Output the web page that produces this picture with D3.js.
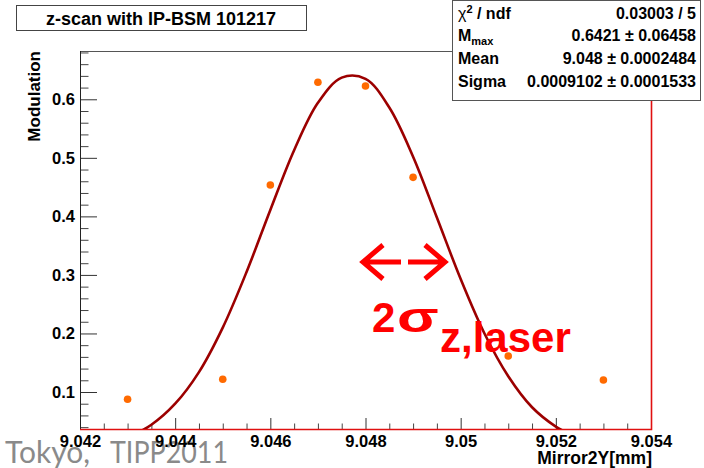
<!DOCTYPE html>
<html>
<head>
<meta charset="utf-8">
<script src="https://cdn.jsdelivr.net/npm/d3@7"></script>
<style>
  html, body { margin: 0; padding: 0; background: #ffffff; }
  svg text { font-family: 'Liberation Sans', Arial, sans-serif; }
</style>
</head>
<body>
<div id="container"></div>
<script>
// measured points
const scanX = [9.043, 9.045, 9.046, 9.047, 9.048, 9.049, 9.051, 9.053];
const scanY = [0.0875, 0.1217, 0.4536, 0.629, 0.6227, 0.4667, 0.1615, 0.1205];

// fit curve, every 0.0005 mm
const fitX = [9.0430, 9.0435, 9.0440, 9.0445, 9.0450, 9.0455, 9.0460, 9.0465, 9.0470, 9.0475,
    9.0480, 9.0485, 9.0490, 9.0495, 9.0500, 9.0505, 9.0510, 9.0515, 9.0520, 9.0525];
const fitY = [0.022, 0.044, 0.080, 0.134, 0.210, 0.305, 0.411, 0.513, 0.594, 0.637,
    0.635, 0.586, 0.502, 0.398, 0.293, 0.200, 0.127, 0.074, 0.041, 0.020];

const xTicks = [9.042, 9.044, 9.046, 9.048, 9.050, 9.052, 9.054];
const xTickLabels = ['9.042', '9.044', '9.046', '9.048', '9.05', '9.052', '9.054'];
const yTicks = [0.1, 0.2, 0.3, 0.4, 0.5, 0.6];
const yTickLabels = ['0.1', '0.2', '0.3', '0.4', '0.5', '0.6'];

const statNames = ['chi2', 'Mmax', 'Mean', 'Sigma'];
const statValues = ['0.03003 / 5', '0.6421 \u00b1 0.06458', '9.048 \u00b1 0.0002484', '0.0009102 \u00b1 0.0001533'];

const W = 704, H = 468;
const frame = {left: 80, right: 651, top: 51, bottom: 429};

const svg = d3.select('#container')
    .append('svg')
    .attr('width', W)
    .attr('height', H)
    .style('display', 'block');

const x = d3.scaleLinear().domain([9.042, 9.054]).range([frame.left, frame.right]);
const y = d3.scaleLinear().domain([0.0368, 0.6825]).range([frame.bottom, frame.top]);

// slide footer (sits under the axis labels)
svg.append('text')
    .text('Tokyo,')
    .attr('x', 5)
    .attr('y', 463)
    .attr('textLength', 85)
    .attr('lengthAdjust', 'spacingAndGlyphs')
    .style('font-family', 'Lato, \'Open Sans\', sans-serif')
    .style('font-size', '30px')
    .style('fill', '#8a8a8a');
svg.append('text')
    .text('TIPP2011')
    .attr('x', 110)
    .attr('y', 463)
    .attr('textLength', 118)
    .attr('lengthAdjust', 'spacingAndGlyphs')
    .style('font-family', 'Lato, \'Open Sans\', sans-serif')
    .style('font-size', '30px')
    .style('fill', '#8a8a8a');

// frame
svg.append('rect')
    .attr('x', frame.left + 0.5)
    .attr('y', frame.top + 0.5)
    .attr('width', frame.right - frame.left)
    .attr('height', frame.bottom - frame.top)
    .attr('fill', '#ffffff')
    .attr('stroke', '#555555')
    .attr('stroke-width', 1);

// minor ticks
svg.append('g')
    .attr('transform', `translate(0,${frame.bottom})`)
    .call(d3.axisBottom(x)
        .tickValues(d3.range(9.0425, 9.054, 0.0005).filter(v => Math.abs((v - 9.042) / 0.002 - Math.round((v - 9.042) / 0.002)) > 1e-6))
        .tickSizeInner(-5.5).tickSizeOuter(0).tickFormat(''))
    .call(g => g.select('.domain').remove())
    .call(g => g.selectAll('line').attr('stroke', '#444444'));
svg.append('g')
    .attr('transform', `translate(${frame.left},0)`)
    .call(d3.axisLeft(y)
        .tickValues(d3.range(0.04, 0.69, 0.02).filter(v => Math.abs(v * 10 - Math.round(v * 10)) > 1e-6))
        .tickSizeInner(-8.5).tickSizeOuter(0).tickFormat(''))
    .call(g => g.select('.domain').remove())
    .call(g => g.selectAll('line').attr('stroke', '#444444'));

// major ticks with labels
svg.append('g')
    .attr('transform', `translate(0,${frame.bottom})`)
    .call(d3.axisBottom(x)
        .tickValues(xTicks)
        .tickSizeInner(-11).tickSizeOuter(0).tickPadding(6)
        .tickFormat((d, i) => xTickLabels[i]))
    .call(g => g.select('.domain').remove())
    .call(g => g.selectAll('line').attr('stroke', '#333333'))
    .call(g => g.selectAll('text')
        .style('font-family', '\'Liberation Sans\', Arial, sans-serif')
        .style('font-weight', 'bold')
        .style('font-size', '16.5px')
        .attr('fill', '#000000'));
svg.append('g')
    .attr('transform', `translate(${frame.left},0)`)
    .call(d3.axisLeft(y)
        .tickValues(yTicks)
        .tickSizeInner(-17).tickSizeOuter(0).tickPadding(5)
        .tickFormat((d, i) => yTickLabels[i]))
    .call(g => g.select('.domain').remove())
    .call(g => g.selectAll('line').attr('stroke', '#333333'))
    .call(g => g.selectAll('text')
        .style('font-family', '\'Liberation Sans\', Arial, sans-serif')
        .style('font-weight', 'bold')
        .style('font-size', '16.5px')
        .attr('fill', '#000000'));

// left axis line and the red bottom / right edges
svg.append('line')
    .attr('x1', frame.left + 0.5).attr('x2', frame.left + 0.5)
    .attr('y1', frame.top).attr('y2', frame.bottom)
    .attr('stroke', '#222222');
svg.append('path')
    .attr('d', `M${frame.left},${frame.bottom + 0.5}H${frame.right + 0.5}V${frame.top}`)
    .attr('fill', 'none')
    .attr('stroke', '#e01010')
    .attr('stroke-width', 1.6);

// axis titles
svg.append('text')
    .text('Modulation')
    .attr('transform', `translate(39.5,${frame.top}) rotate(-90)`)
    .attr('text-anchor', 'end')
    .style('font-weight', 'bold')
    .style('font-size', '17px');
svg.append('text')
    .text('Mirror2Y[mm]')
    .attr('x', frame.right + 1)
    .attr('y', 464)
    .attr('text-anchor', 'end')
    .style('font-weight', 'bold')
    .style('font-size', '17.5px');

// fit curve
svg.append('clipPath')
    .attr('id', 'frameClip')
    .append('rect')
    .attr('x', frame.left)
    .attr('y', frame.top)
    .attr('width', frame.right - frame.left)
    .attr('height', frame.bottom - frame.top);
const fitLine = d3.line()
    .x(d => x(d[0]))
    .y(d => y(d[1]))
    .curve(d3.curveCatmullRom);
svg.append('path')
    .datum(fitX.map((v, i) => [v, fitY[i]]))
    .attr('d', fitLine)
    .attr('clip-path', 'url(#frameClip)')
    .attr('fill', 'none')
    .attr('stroke', '#9c0000')
    .attr('stroke-width', 2.6);

// data points
svg.append('g')
    .selectAll('circle')
    .data(scanX)
    .join('circle')
    .attr('cx', d => x(d))
    .attr('cy', (d, i) => y(scanY[i]))
    .attr('r', 3.8)
    .attr('fill', '#ff6a00');

// title box
svg.append('rect')
    .attr('x', 16.5).attr('y', 5.5)
    .attr('width', 290).attr('height', 25)
    .attr('fill', '#ffffff')
    .attr('stroke', '#444444');
svg.append('text')
    .text('z-scan with IP-BSM 101217')
    .attr('x', 161)
    .attr('y', 25)
    .attr('text-anchor', 'middle')
    .style('font-weight', 'bold')
    .style('font-size', '18px');

// stats box
const stats = svg.append('g');
stats.append('rect')
    .attr('x', 452.5).attr('y', 0.5)
    .attr('width', 248).attr('height', 100)
    .attr('fill', '#ffffff')
    .attr('stroke', '#555555');
const rowY = [18.5, 41, 64, 87];
statNames.forEach((name, i) => {
    const t = stats.append('text')
        .attr('x', 458)
        .attr('y', rowY[i])
        .style('font-weight', 'bold')
        .style('font-size', '16px');
    if (name === 'chi2') {
        t.append('tspan').text('\u03c7').style('font-weight', 'normal');
        t.append('tspan').text('2').attr('dy', -6).style('font-size', '11px');
        t.append('tspan').text(' / ndf').attr('dy', 6);
    } else if (name === 'Mmax') {
        t.append('tspan').text('M');
        t.append('tspan').text('max').attr('dy', 4).style('font-size', '11px');
    } else {
        t.text(name);
    }
    stats.append('text')
        .text(statValues[i])
        .attr('x', 696)
        .attr('y', rowY[i])
        .attr('text-anchor', 'end')
        .style('font-weight', 'bold')
        .style('font-size', '16px');
});

// 2 sigma annotation
const red = '#ff0000';
const ann = svg.append('g')
    .attr('fill', 'none')
    .attr('stroke', red)
    .attr('stroke-width', 5)
    .attr('stroke-linejoin', 'miter');
ann.append('path').attr('d', 'M383,245L363,262L383,279M363,262H401');
ann.append('path').attr('d', 'M425,245L445,262L425,279M445,262H408');
svg.append('text')
    .text('2')
    .attr('x', 372)
    .attr('y', 332)
    .style('font-weight', 'bold')
    .style('font-size', '42px')
    .style('fill', red);
svg.append('text')
    .text('\u03c3')
    .attr('transform', 'translate(397,332) scale(1.45,1)')
    .style('font-weight', 'bold')
    .style('font-size', '42px')
    .style('fill', red);
svg.append('text')
    .text('z,laser')
    .attr('x', 440)
    .attr('y', 352)
    .style('font-weight', 'bold')
    .style('font-size', '42px')
    .style('fill', red);
</script>
</body>
</html>
